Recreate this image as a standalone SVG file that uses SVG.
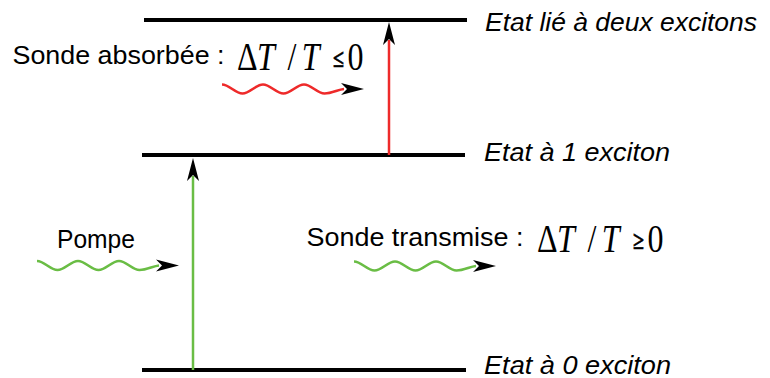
<svg xmlns="http://www.w3.org/2000/svg" xmlns:xlink="http://www.w3.org/1999/xlink" width="770" height="378" viewBox="0 0 770 378">
<style>
.lvl{stroke:#000;stroke-width:4;fill:none}
.lbl{font-family:"Liberation Sans",Arial,sans-serif;font-size:25px;fill:#000}
.it{font-style:italic}
.math{font-family:"Liberation Serif","Times New Roman",serif;font-size:40px;fill:#000}
.rel{font-size:25px;font-weight:bold;stroke:#000;stroke-width:0.6}
.green{stroke:#6ABD45}
.red{stroke:#EE2A2A}
.wv{fill:none;stroke-width:2.6}
.vl{stroke-width:2.5;fill:none}
</style>
<defs>
<path id="wave" d="M0,-4.5 C7.5,-4.5 13,4.5 20.5,4.5 S33.5,-4.5 41,-4.5 S54,4.5 61.5,4.5 S74.5,-4.5 82,-4.5 S95,4.5 102.5,4.5 S116,0.5 122,0"/>
<path id="head" d="M0,0 L-23,-6 L-17,0 L-23,6 Z" fill="#000"/>
</defs>
<rect width="770" height="378" fill="#fff"/>
<g id="level-2">
<line class="lvl" x1="144" y1="20" x2="467" y2="20"/>
<text class="lbl it" x="485" y="31" textLength="272" lengthAdjust="spacingAndGlyphs">Etat lié à deux excitons</text>
</g>
<g id="level-1">
<line class="lvl" x1="142" y1="155" x2="465" y2="155"/>
<text class="lbl it" x="484" y="161" textLength="186" lengthAdjust="spacingAndGlyphs">Etat à 1 exciton</text>
</g>
<g id="level-0">
<line class="lvl" x1="142" y1="370" x2="466" y2="370"/>
<text class="lbl it" x="484" y="373.5" textLength="187" lengthAdjust="spacingAndGlyphs">Etat à 0 exciton</text>
</g>
<g id="pompe">
<text class="lbl" x="57" y="248" textLength="78" lengthAdjust="spacingAndGlyphs">Pompe</text>
<g transform="translate(37,265.5)">
<use xlink:href="#wave" class="wv green"/>
<use xlink:href="#head" x="142"/>
</g>
</g>
<g id="sonde-absorbee">
<text class="lbl" x="12.5" y="64" textLength="212" lengthAdjust="spacingAndGlyphs">Sonde absorbée :</text>
<g transform="translate(237,70) scale(0.8,1)">
<text class="math"><tspan x="0">Δ</tspan><tspan x="25" font-style="italic">T</tspan><tspan x="63">/</tspan><tspan x="81" font-style="italic">T</tspan><tspan x="120" class="rel" dy="-3">≤</tspan><tspan x="138" dy="3">0</tspan></text>
</g>
<g transform="translate(222,89)">
<use xlink:href="#wave" class="wv red"/>
<use xlink:href="#head" x="142"/>
</g>
</g>
<g id="sonde-transmise">
<text class="lbl" x="306.5" y="246" textLength="217" lengthAdjust="spacingAndGlyphs">Sonde transmise :</text>
<g transform="translate(537,251.5) scale(0.8,1)">
<text class="math"><tspan x="0">Δ</tspan><tspan x="25" font-style="italic">T</tspan><tspan x="63">/</tspan><tspan x="81" font-style="italic">T</tspan><tspan x="120" class="rel" dy="-3">≥</tspan><tspan x="138" dy="3">0</tspan></text>
</g>
<g transform="translate(354,266)">
<use xlink:href="#wave" class="wv green"/>
<use xlink:href="#head" x="142"/>
</g>
</g>
<g id="connectors">
<line class="vl green" x1="193" y1="370" x2="193" y2="176"/>
<use xlink:href="#head" transform="translate(193,158) rotate(-90)"/>
<line class="vl red" x1="389" y1="155" x2="389" y2="40"/>
<use xlink:href="#head" transform="translate(389,22) rotate(-90)"/>
</g>
</svg>
